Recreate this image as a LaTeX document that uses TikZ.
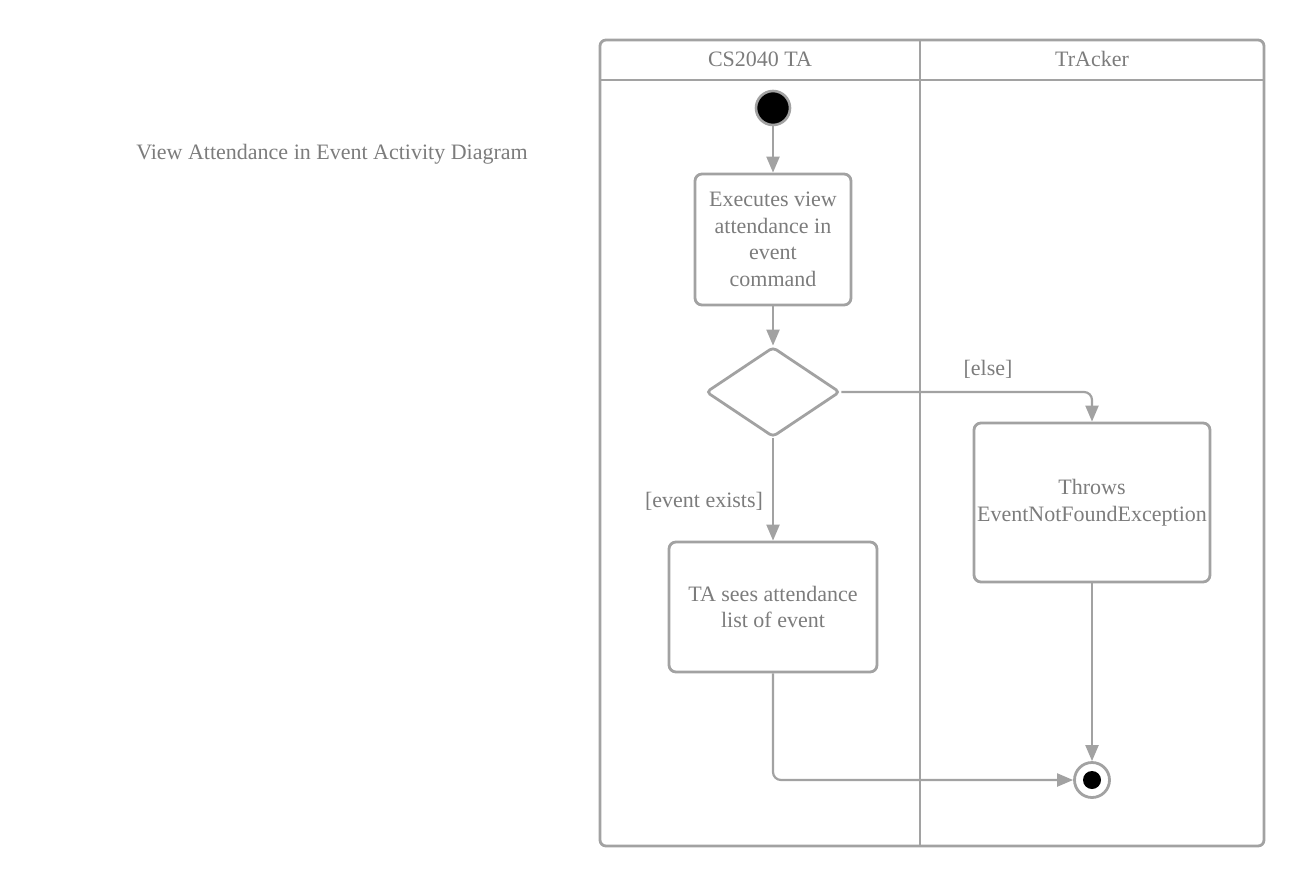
\documentclass[tikz,border=0pt]{standalone}
\usepackage{fontspec}
\setmainfont{Liberation Serif}
\usetikzlibrary{shapes.geometric,arrows.meta}
\definecolor{ln}{HTML}{A2A2A2}
\definecolor{tx}{HTML}{7C7C7C}
\begin{document}
\begin{tikzpicture}[x=1pt,y=-1pt,
  every node/.style={text=tx,font=\fontsize{22}{26.5}\selectfont},
  actbox/.style={draw=ln,line width=2.8pt,rounded corners=7pt,align=center,inner sep=0pt},
  decbox/.style={draw=ln,line width=2.8pt,diamond,aspect=1.49,minimum width=134pt,minimum height=90pt,inner sep=0pt,rounded corners=4pt},
  startnode/.style={draw=ln,fill=black,circle,line width=2.6pt,minimum size=34pt,inner sep=0pt},
  endnode/.style={draw=ln,fill=white,circle,line width=2.8pt,minimum size=35pt,inner sep=0pt},
  arr/.style={draw=ln,line width=2.2pt,-{Triangle[length=16pt,width=13pt]}},
  lane/.style={draw=ln,line width=2.8pt}]
\useasboundingbox (0,0) rectangle (1305,886);
% pool
\draw[lane,rounded corners=6pt] (600,40) rectangle (1264,846);
\draw[lane] (600,80) -- (1264,80);
\draw[lane] (920,40) -- (920,846);
\node (h1) at (760,59) {CS2040 TA};
\node (h2) at (1092,59) {TrAcker};
\node (title) at (332,154) {View Attendance in Event Activity Diagram};
% nodes
\node[startnode] (start) at (773,108) {};
\node[actbox,minimum width=156pt,minimum height=131pt] (b1) at (773,239.5) {Executes view\\attendance in\\event\\command};
\node[decbox] (dec) at (773,392) {};
\node[actbox,minimum width=208pt,minimum height=130pt] (b2) at (773,607) {TA sees attendance\\list of event};
\node[actbox,minimum width=236pt,minimum height=159pt] (b3) at (1092,502.5) {Throws\\EventNotFoundException};
\node[endnode] (end) at (1092,780) {};
\fill[black] (end.center) circle (9);
% labels
\node (l1) at (704,501) {[event exists]};
\node (l2) at (988,369) {[else]};
% connectors
\draw[arr] (start) -- (b1);
\draw[arr] (b1) -- (dec);
\draw[arr] (dec.south) -- (b2.north);
\draw[arr,rounded corners=8pt] (dec.east) -| (b3.north);
\draw[arr] (b3.south) -- (end.north);
\draw[arr,rounded corners=8pt] (b2.south) |- (end.west);
\end{tikzpicture}
\end{document}
